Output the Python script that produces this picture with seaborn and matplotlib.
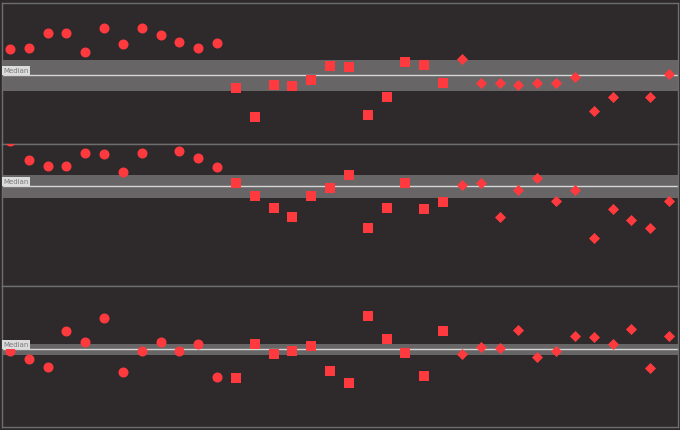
import numpy as np
import pandas as pd
import matplotlib
matplotlib.use("Agg")
import matplotlib.pyplot as plt
import seaborn as sns

# ---- data (deviation from median) ----
nan = np.nan
groups = ["A"] * 12 + ["B"] * 12 + ["C"] * 12

panel1_values = [26, 27, 42, 42, 23, 47, 31, 47, 40, 33, 27, 32,
                 -13, -42, -10, -11, -5, 9, 8, -40, -22, 13, 10, -8,
                 16, -8, -8, -10, -8, -8, -2, -36, -22, nan, -22, 1]
panel2_values = [45, 26, 20, 20, 33, 32, 14, 33, nan, 35, 28, 19,
                 3, -10, -22, -31, -10, -2, 11, -42, -22, 3, -23, -16,
                 1, 3, -31, -4, 8, -15, -4, -52, -23, -34, -42, -15]
panel3_values = [-2, -10, -18, 18, 7, 31, -23, -2, 7, -2, 5, -28,
                 -29, 5, -5, -2, 3, -22, -34, 33, 10, -4, -27, 18,
                 -5, 2, 1, 19, -8, -2, 13, 12, 5, 20, -19, 13]

panel_values = [panel1_values, panel2_values, panel3_values]
band_low = [-16, -12, -6]
band_high = [15, 11, 5]
median_values = [0, 0, 0]
y_limits = [(-69, 72), (-100, 42), (-78, 63)]
median_label = "Median"

# ---- style ----
bg = "#2e2a2b"
red = "#ff3a3e"
sns.set_style("dark", rc={"axes.facecolor": bg, "figure.facecolor": bg})
plt.rcParams["font.family"] = ["DejaVu Sans"]

fig = plt.figure(figsize=(6.8, 4.31), dpi=100)
W, H = 680.0, 431.0
panel_px = [(4, 145), (145, 287), (287, 428)]
marker_map = {"A": ("o", 52), "B": ("s", 46), "C": ("D", 32)}

for k in range(3):
    top, bot = panel_px[k]
    ax = fig.add_axes([2 / W, 1 - bot / H, 676 / W, (bot - top) / H])
    ax.set_facecolor(bg)
    df = pd.DataFrame({"x": np.arange(36), "y": panel_values[k], "g": groups})
    ax.axhspan(band_low[k], band_high[k], color="#676565", zorder=1, lw=0)
    ax.axhline(median_values[k], color="#d6d6d6", lw=1.0, zorder=2)
    for g, (m, s) in marker_map.items():
        sub = df[df["g"] == g]
        sns.scatterplot(data=sub, x="x", y="y", marker=m, s=s, color=red,
                        linewidth=0, ax=ax, zorder=3, legend=False)
    ax.set_xlim(-0.425, 35.475)
    ax.set_ylim(*y_limits[k])
    ax.set_xticks([])
    ax.set_yticks([])
    ax.set_xlabel("")
    ax.set_ylabel("")
    for sp in ax.spines.values():
        sp.set_visible(True)
        sp.set_color("#6e6e6e")
        sp.set_linewidth(1.0)
    ax.text(0.002, median_values[k] + 1.5, median_label,
            transform=ax.get_yaxis_transform(), fontsize=5, color="#7a7a7a",
            ha="left", va="bottom", zorder=4,
            bbox=dict(boxstyle="square,pad=0.15", fc="#dcdcdc", ec="none"))

fig.savefig("out.png", dpi=100, facecolor=bg)
